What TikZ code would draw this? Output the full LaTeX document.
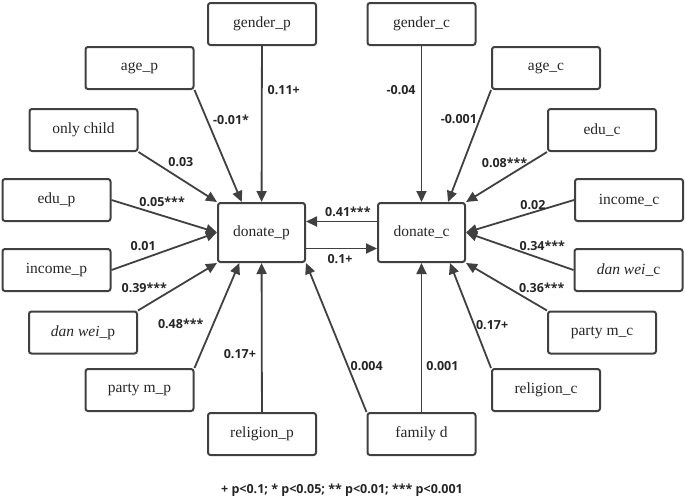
\documentclass[tikz,border=0pt]{standalone}
\usepackage{fontspec}
\setmainfont{Liberation Serif}
\setsansfont{Open Sans}
\usetikzlibrary{arrows.meta}
\definecolor{boxgray}{HTML}{404040}
\tikzset{var/.style={rectangle,draw=boxgray,line width=2pt,rounded corners=2.5pt,
    minimum width=108pt,minimum height=42pt,font=\fontsize{15.5}{17}\selectfont,text=black!85}}
\tikzset{dep/.style={var,minimum width=87pt,minimum height=59pt}}
\tikzset{arr/.style={boxgray,line width=1.8pt,-{Triangle[length=11pt,width=10pt]}}}
\tikzset{coef/.style={font=\sffamily\bfseries\fontsize{12.5}{14}\selectfont,inner sep=0pt,text=black!85}}

\begin{document}
\begin{tikzpicture}[x=1pt,y=-1pt]
\useasboundingbox (0,0) rectangle (685,499);
% parents side
\node (donp) [dep] at (261.5,232.5) {donate\_p};
\node (genp) [var] at (262,24) {gender\_p};
\node (agep) [var] at (139.5,68) {age\_p};
\node (onlyc) [var] at (83.5,130) {only child};
\node (edup) [var] at (56.5,200) {edu\_p};
\node (incp) [var] at (56.5,270) {income\_p};
\node (danp) [var] at (83,332.5) {\textit{dan wei}\_p};
\node (partyp) [var] at (139.5,390) {party m\_p};
\node (relp) [var] at (262,434) {religion\_p};
% children side
\node (donc) [dep] at (421.5,232.5) {donate\_c};
\node (genc) [var] at (421.5,24) {gender\_c};
\node (agec) [var] at (546,68) {age\_c};
\node (educ) [var] at (602,130) {edu\_c};
\node (incc) [var] at (629,200) {income\_c};
\node (danc) [var] at (628.5,270) {\textit{dan wei}\_c};
\node (partyc) [var] at (602,332.5) {party m\_c};
\node (relc) [var] at (546,390) {religion\_c};
\node (famd) [var] at (421.5,434) {family d};
%
\path[arr] (genp) edge node[coef,pos=.28,right=5pt] (cgenp) {0.11+} (donp);
\path[arr] (agep.south east) edge node[coef,pos=.27,right=5pt] (cagep) {-0.01*} (donp.123);
\path[arr] (onlyc.south east) edge node[coef,pos=.54,above=11pt] (conlyc) {0.03} (donp.north west);
\path[arr] (edup.east) edge node[coef,pos=.48,above=8pt] (cedup) {0.05***} (donp.west);
\path[arr] (incp.east) edge node[coef,pos=.30,above=7pt] (cincp) {0.01} (donp.west);
\path[arr] (danp.north east) edge node[coef,pos=.48,left=8pt] (cdanp) {0.39***} (donp.south west);
\path[arr] (partyp.north east) edge node[coef,pos=.42,left=9pt] (cpartyp) {0.48***} (donp.234);
\path[arr] (relp) edge node[coef,pos=.39,left=5pt] (crelp) {0.17+} (donp);
\path[arr] (famd.north west) edge node[coef,pos=.31,right=2pt] (cfamp) {0.004} (donp.south east);
%
\path[arr] (genc) edge node[coef,pos=.28,left=5pt] (cgenc) {-0.04} (donc);
\path[arr] (agec.south west) edge node[coef,pos=.26,left=2pt] (cagec) {-0.001} (donc.49);
\path[arr] (educ.south west) edge node[coef,pos=.22,left=1pt] (ceduc) {0.08***} (donc.north east);
\path[arr] (incc.west) edge node[coef,pos=.38,above=2pt] (cincc) {0.02} (donc.east);
\path[arr] (danc.west) edge node[coef,pos=.29,above=8pt] (cdanc) {0.34***} (donc.east);
\path[arr] (partyc.north west) edge node[coef,pos=.48,right=10pt] (cpartyc) {0.36***} (donc.south east);
\path[arr] (relc.north west) edge node[coef,pos=.41,right=1pt] (crelc) {0.17+} (donc.313);
\path[arr] (famd) edge node[coef,pos=.31,right=4pt] (cfamc) {0.001} (donc);
%
\path[arr] ([yshift=11pt]donc.west) edge node[coef,pos=.41,above=4pt] (cpc) {0.41***} ([yshift=11pt]donp.east);
\path[arr] ([yshift=-16pt]donp.east) edge node[coef,pos=.48,below=5pt] (ccp) {0.1+} ([yshift=-16pt]donc.west);
%
\node (key) [coef] at (342,490) {+ p<0.1; * p<0.05; ** p<0.01; *** p<0.001};
\end{tikzpicture}
\end{document}
